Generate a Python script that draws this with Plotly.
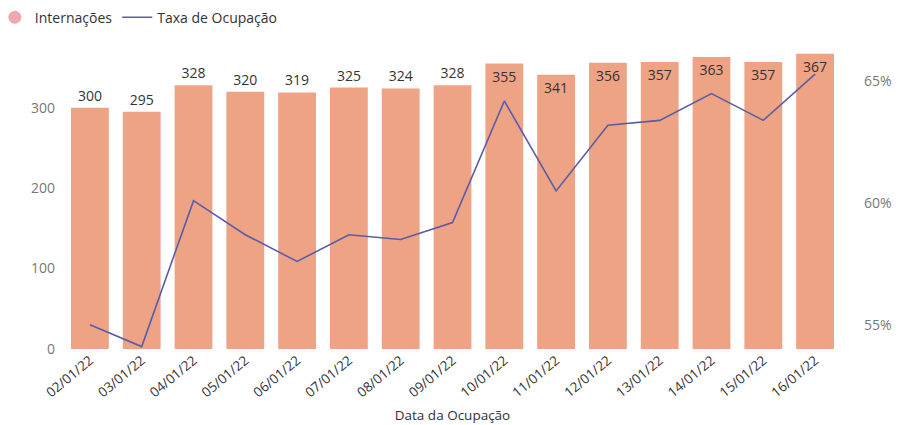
import plotly.graph_objects as go

datas = ["02/01/22", "03/01/22", "04/01/22", "05/01/22", "06/01/22", "07/01/22", "08/01/22",
         "09/01/22", "10/01/22", "11/01/22", "12/01/22", "13/01/22", "14/01/22", "15/01/22", "16/01/22"]
internacoes = [300, 295, 328, 320, 319, 325, 324, 328, 355, 341, 356, 357, 363, 357, 367]
taxa_ocupacao = [55.0, 54.1, 60.1, 58.7, 57.6, 58.7, 58.5, 59.2, 64.2, 60.5, 63.2, 63.4, 64.5, 63.4, 65.3]

BAR_COLOR = "#EEA384"
LINE_COLOR = "#5A5DA6"
FONT = "Open Sans"

# Power BI puts the label inside the bar once it gets close to the top
positions = ["outside" if v < 340 else "inside" for v in internacoes]

fig = go.Figure()
fig.add_trace(go.Bar(
    x=datas, y=internacoes, name="Internações", showlegend=False,
    marker=dict(color=BAR_COLOR, line=dict(width=0)),
    text=internacoes, textposition=positions, insidetextanchor="end",
    textfont=dict(family=FONT, size=14, color="#333333"),
    cliponaxis=False,
))
# legend entry with a round marker, like the original
fig.add_trace(go.Scatter(
    x=[None], y=[None], mode="markers", name="Internações",
    marker=dict(symbol="circle", size=13, color="#F0A8B0"),
))
fig.add_trace(go.Scatter(
    x=datas, y=taxa_ocupacao, name="Taxa de Ocupação", mode="lines",
    line=dict(color=LINE_COLOR, width=1.6), yaxis="y2",
))

# the page body adds an 8px offset, so margins are shifted by that amount
fig.update_layout(
    width=907, height=425,
    margin=dict(l=56, r=74, t=37, b=84, autoexpand=False),
    paper_bgcolor="white", plot_bgcolor="white",
    font=dict(family=FONT, color="#666666", size=14),
    bargap=0.27,
    showlegend=True,
    legend=dict(orientation="h", xref="paper", yref="paper", x=-0.089, y=1.09,
                xanchor="left", yanchor="middle", font=dict(size=14, color="#333333"),
                itemwidth=30, tracegroupgap=0, traceorder="normal"),
    xaxis=dict(
        tickangle=-40, showgrid=False, showline=False, zeroline=False, automargin=False,
        tickfont=dict(size=13.5, color="#333333"),
        title=dict(text="Data da Ocupação", font=dict(size=13.5, color="#333333"), standoff=10),
    ),
    yaxis=dict(
        range=[0, 378], tickvals=[0, 100, 200, 300], showgrid=False, zeroline=False,
        automargin=False, tickfont=dict(size=14, color="#777777"), ticklabelstandoff=8,
    ),
    yaxis2=dict(
        overlaying="y", side="right", range=[54.0, 66.5],
        tickvals=[55, 60, 65], ticktext=["55%", "60%", "65%"],
        showgrid=False, zeroline=False, automargin=False,
        tickfont=dict(size=14, color="#777777"), ticklabelstandoff=22,
    ),
)

fig.write_html("out.html")
